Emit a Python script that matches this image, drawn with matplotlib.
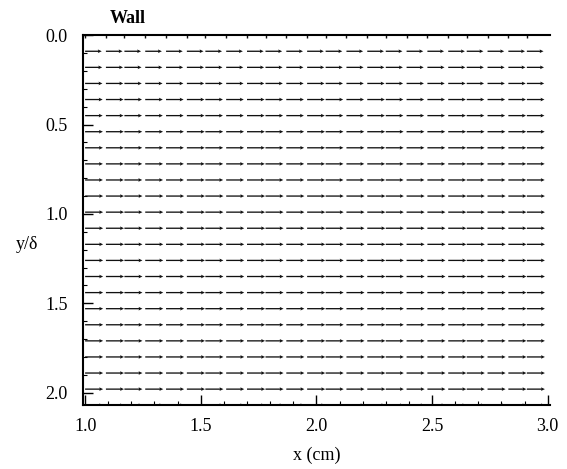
import numpy as np
import matplotlib
matplotlib.use("Agg")
import matplotlib.pyplot as plt
from matplotlib.ticker import MultipleLocator, FormatStrFormatter

# grid of measurement points (x in cm, y normalised by delta)
x_cols = [1.00, 1.09, 1.17, 1.26, 1.35, 1.44, 1.52, 1.61, 1.70, 1.78, 1.87, 1.96,
          2.04, 2.13, 2.22, 2.30, 2.39, 2.48, 2.57, 2.65, 2.74, 2.83, 2.91]
y_rows = [0.00, 0.09, 0.18, 0.27, 0.36, 0.45, 0.54, 0.63, 0.72, 0.81, 0.90, 0.99,
          1.08, 1.17, 1.26, 1.35, 1.44, 1.53, 1.62, 1.71, 1.80, 1.89, 1.98, 2.07]
# arrow length (streamwise velocity, plotted in cm) for each row
row_u = [0.000, 0.072, 0.074, 0.075, 0.076, 0.076, 0.077, 0.077, 0.077, 0.077, 0.078, 0.078,
         0.078, 0.078, 0.078, 0.078, 0.078, 0.078, 0.078, 0.078, 0.078, 0.078, 0.078, 0.078]

plt.rcParams["font.family"] = ["Liberation Serif", "DejaVu Serif"]

fig = plt.figure(figsize=(5.67, 4.69), dpi=100)
ax = fig.add_axes([0.146, 0.136, 0.824, 0.789])

X, Y = np.meshgrid(x_cols, y_rows[1:])
U = np.repeat(np.array(row_u[1:])[:, None], len(x_cols), axis=1)
V = np.zeros_like(U)
ax.quiver(X, Y, U, V, angles="xy", scale_units="xy", scale=1, color="#111111",
          width=0.0028, headwidth=2.8, headlength=3, headaxislength=2.6, pivot="tail")

# wall row: zero velocity, only the points
ax.plot(x_cols, [y_rows[0]] * len(x_cols), linestyle="none", marker="|",
        markersize=4, color="#111111")

ax.set_xlim(0.99, 3.01)
ax.set_ylim(2.07, 0.0)

ax.spines["right"].set_visible(False)
for s in ["left", "bottom", "top"]:
    ax.spines[s].set_linewidth(1.5)

ax.xaxis.set_major_locator(MultipleLocator(0.5))
ax.xaxis.set_minor_locator(MultipleLocator(0.1))
ax.yaxis.set_major_locator(MultipleLocator(0.5))
ax.yaxis.set_minor_locator(MultipleLocator(0.1))
ax.tick_params(which="major", direction="in", length=7, width=1, labelsize=13)
ax.tick_params(axis="y", which="major", pad=11)
ax.tick_params(axis="x", which="major", pad=9)
ax.tick_params(which="minor", direction="in", length=3, width=0.8)
ax.tick_params(top=False, right=False, which="both")
ax.xaxis.set_major_formatter(FormatStrFormatter("%.1f"))
ax.yaxis.set_major_formatter(FormatStrFormatter("%.1f"))

ax.set_xlabel("x (cm)", fontsize=13, va="center")
ax.xaxis.set_label_coords(0.5, -0.135)
ax.set_ylabel("y/δ", fontsize=13, rotation=0, va="center", ha="center")
ax.yaxis.set_label_coords(-0.12, 0.435)
ax.text(1.105, -0.045, "Wall", fontsize=13, fontweight="bold", ha="left", va="bottom")

fig.savefig("out.png", dpi=100)
